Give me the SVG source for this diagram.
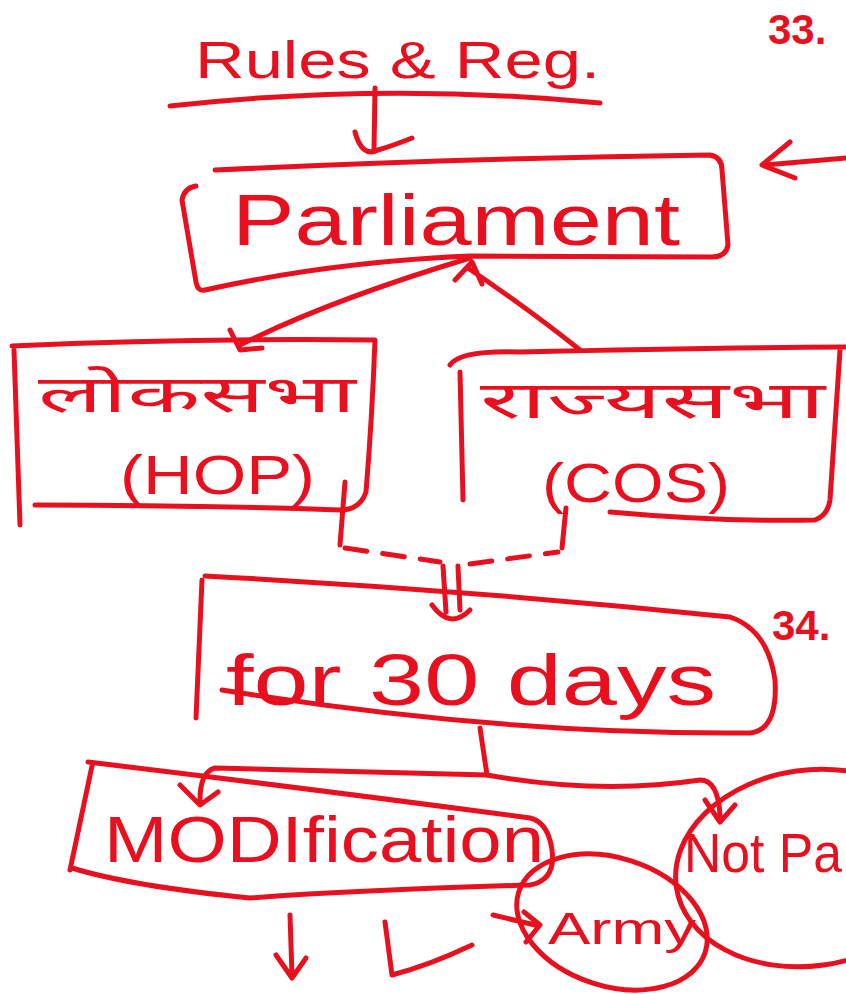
<svg xmlns="http://www.w3.org/2000/svg" width="846" height="994" viewBox="0 0 846 994">
<style>
.s{fill:none;stroke:#e8101e;stroke-width:5;stroke-linecap:round;stroke-linejoin:round}
.d{stroke-dasharray:22 16}
.t{fill:#e8101e;font-family:"Liberation Sans","DejaVu Sans",sans-serif}
.h{fill:#e8101e;font-family:"Noto Sans Devanagari","Noto Sans","Liberation Sans",sans-serif}
.n{fill:#e8101e;font-family:"Liberation Sans",sans-serif;font-weight:bold;font-size:42px}
</style>
<rect width="846" height="994" fill="#ffffff"/>
<text class="n" x="768" y="44">33.</text>
<text class="n" x="772" y="640">34.</text>
<g id="rules">
<text class="t" x="195" y="78" font-size="52" textLength="405" lengthAdjust="spacingAndGlyphs">Rules &amp; Reg.</text>
<path class="s" d="M170 106 Q385 82 600 103"/>
</g>
<g id="parliament">
<path class="s" d="M215 170 Q470 158 710 155 Q722 157 722 170 L728 245 Q726 257 712 257 L470 256 Q330 262 205 290 Q198 292 196 282 L182 200 Q184 188 196 186"/>
<text class="t" x="232" y="245" font-size="72" textLength="448" lengthAdjust="spacingAndGlyphs">Parliament</text>
</g>
<g id="loksabha">
<path class="s" d="M12 346 Q190 338 375 340 M375 340 Q372 420 366 492 Q360 510 340 510 Q190 505 35 505 M14 350 L20 525"/>
<text class="h" x="38" y="412" font-size="52" textLength="318" lengthAdjust="spacingAndGlyphs">लोकसभा</text>
<text class="t" x="120" y="494" font-size="56" textLength="195" lengthAdjust="spacingAndGlyphs">(HOP)</text>
</g>
<g id="rajyasabha">
<path class="s" d="M450 365 Q460 350 520 352 Q700 348 846 347 M460 372 L463 500 M610 512 Q720 522 815 520 Q828 515 830 500 L840 350"/>
<text class="h" x="480" y="418" font-size="52" textLength="345" lengthAdjust="spacingAndGlyphs">राज्यसभा</text>
<text class="t" x="542" y="502" font-size="56" textLength="188" lengthAdjust="spacingAndGlyphs">(COS)</text>
</g>
<g id="days">
<path class="s" d="M205 576 Q470 590 730 617 Q768 630 775 680 Q778 730 750 733 Q500 735 222 690 M202 580 L196 718"/>
<text class="t" x="226" y="705" font-size="72" textLength="490" lengthAdjust="spacingAndGlyphs">for 30 days</text>
</g>
<g id="modification">
<path class="s" d="M88 762 Q320 790 530 818 Q548 822 552 850 Q556 880 530 885 Q360 890 250 898 Q130 886 72 868 M92 766 L70 870"/>
<text class="t" x="104" y="862" font-size="64" textLength="440" lengthAdjust="spacingAndGlyphs">MODIfication</text>
</g>
<g id="army">
<ellipse class="s" cx="612" cy="922" rx="98" ry="64" transform="rotate(18 612 922)"/>
<text class="t" x="548" y="944" font-size="44" textLength="148" lengthAdjust="spacingAndGlyphs">Army</text>
</g>
<g id="notpassed">
<ellipse class="s" cx="810" cy="868" rx="135" ry="98" transform="rotate(-8 810 868)"/>
<text class="t" x="684" y="872" font-size="56" textLength="158" lengthAdjust="spacingAndGlyphs">Not Pa</text>
</g>
<g id="connectors">
<path class="s" d="M375 88 L374 150 M355 132 Q362 158 378 150 Q392 146 412 138"/>
<path class="s" d="M846 158 L765 165 M790 142 L762 165 L795 178"/>
<path class="s" d="M470 258 Q330 300 240 345 M230 330 L240 350 L262 348"/>
<path class="s" d="M468 268 Q530 310 580 350 M455 280 L472 262 L482 284"/>
<path class="s" d="M345 482 L340 545"/>
<path class="s d" d="M345 548 L440 562 M470 564 L558 552"/>
<path class="s" d="M562 548 L566 508"/>
<path class="s" d="M443 566 L446 612 M458 566 L460 610 M432 605 Q450 630 470 610"/>
<path class="s" d="M480 728 L487 775 Q600 795 700 780 Q718 780 720 815 M705 800 L720 822 L735 805"/>
<path class="s" d="M487 775 L215 768 Q200 772 200 800 M180 785 L200 805 L218 792"/>
<path class="s" d="M290 915 L292 975 M276 955 L292 978 L306 958"/>
<path class="s" d="M385 922 L392 975 Q430 965 472 945"/>
<path class="s" d="M493 915 L535 925 M524 912 L540 925 L526 942"/>
</g>
</svg>
